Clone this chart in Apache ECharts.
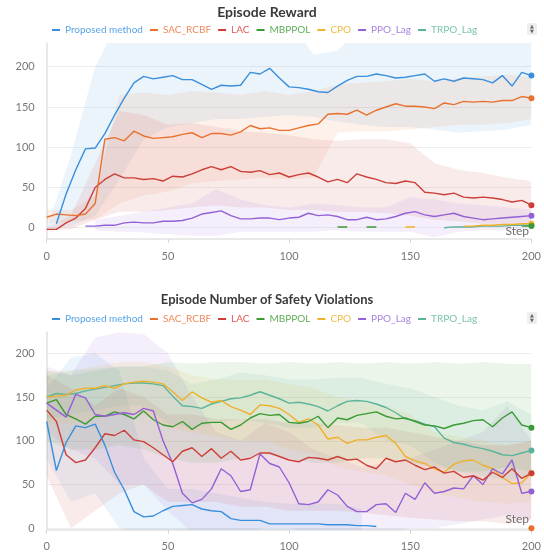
<!DOCTYPE html>
<html><head><meta charset="utf-8">
<script src="https://cdn.jsdelivr.net/npm/echarts@6/dist/echarts.min.js"></script>
<style>html,body{margin:0;padding:0;background:#fff}#c{width:544px;height:552px}</style>
</head><body><div id="c"></div><script>
// ---------- shared ----------
const names = ['Proposed method','SAC_RCBF','LAC','MBPPOL','CPO','PPO_Lag','TRPO_Lag'];
const colors = ['#3a8fdc','#e8712f','#cc3f38','#3b9a35','#efb02b','#9360d6','#5bb49a'];
const legendTextColors = ['#5aa3e6','#ef8b5c','#dd5c57','#5fae58','#f0bb45','#a884e0','#7cc3ad'];
const yTickValues = [0,50,100,150,200];
const xTickValues = [0,50,100,150,200];
const steps = [0,4,8,12,16,20,24,28,32,36,40,44,48,52,56,60,64,68,72,76,80,84,88,92,96,100,104,108,112,116,120,124,128,132,136,140,144,148,152,156,160,164,168,172,176,180,184,188,192,196,200];
const bandSteps = [0,10,20,30,40,50,60,70,80,90,100,110,120,130,140,150,160,170,180,190,200];

// ---------- Episode Reward (top) ----------
const rewardProposed = [null,5,42,72,98,99,117,140,161,180,188,185,187,189,184,184,178,172,177,176,177,193,191,198,186,175,174,172,169,168,176,183,188,188,191,189,186,187,189,191,182,185,182,186,185,184,180,189,176,193,189];
const rewardSAC = [13,17,16,15,17,30,110,112,108,120,114,111,112,113,116,118,112,117,117,115,119,127,123,124,121,121,124,127,129,141,142,141,146,140,146,150,154,151,151,150,148,155,153,157,156,157,156,158,158,163,161];
const rewardLAC = [-2,-2,6,12,24,50,60,67,62,62,60,61,58,64,63,67,72,76,72,76,70,69,71,66,68,63,66,68,63,57,60,56,67,63,60,56,55,58,56,44,43,41,43,38,37,38,37,35,32,34,28];
const rewardPPO = [null,null,null,null,2,2,3,3,6,7,6,6,8,8,9,12,17,19,21,15,11,11,12,12,10,12,13,18,15,16,14,10,10,13,10,11,14,18,20,16,14,16,18,14,12,10,11,12,13,14,15];
const rewardMBX = [120,124,128,132,136,140,196,200];
const rewardMB = [1,1,null,1,1,null,2,2];
const rewardCPOX = [148,152,156,172,176,180,184,188,192,196,200];
const rewardCPO = [1,1,null,2,2,3,3,4,4,5,5];
const rewardTRPOX = [164,168,172,176,180,184,188,192,196,200];
const rewardTRPO = [0,1,1,1,2,2,2,3,3,3];
// bands (every 10 steps)
const rewardProposedLo = [-2,2,15,60,110,125,130,135,135,138,140,138,132,128,125,125,122,118,120,122,128];
const rewardProposedHi = [-2,90,200,260,260,260,260,260,260,260,260,215,220,250,260,260,260,260,260,235,260];
const rewardSACLo = [5,8,10,30,40,45,55,58,60,62,60,62,118,120,120,122,125,128,128,130,135];
const rewardSACHi = [22,22,40,165,168,165,170,168,165,170,165,170,178,180,182,185,182,186,188,190,188];
const rewardLACLo = [-4,-2,10,20,20,22,25,28,25,25,22,22,20,20,18,15,10,8,5,5,5];
const rewardLACHi = [0,15,80,145,140,128,130,125,120,118,115,110,108,110,110,105,80,72,68,62,58];
const rewardPPOLo = [null,null,-3,-5,-6,-8,-10,-10,-5,-5,-5,-5,-3,-5,-5,-5,-12,-5,-3,-3,-3];
const rewardPPOHi = [null,null,10,15,20,25,30,48,35,28,25,30,28,25,25,38,35,30,28,25,22];

// ---------- Safety violations (bottom) ----------
const violProposed = [122,66,98,117,115,119,95,64,44,19,13,14,20,25,26,27,22,20,19,11,9,9,9,5,5,5,5,5,5,4,4,4,3,3,2];
const violSACX = [200];
const violSAC = [0];
const violLAC = [135,122,84,75,78,92,108,106,112,101,99,92,84,76,88,92,82,91,80,88,78,80,86,86,82,78,76,81,80,78,82,78,79,72,68,80,76,78,72,67,70,63,65,58,60,55,64,58,68,57,63];
const violMB = [143,147,130,125,119,128,128,133,130,125,134,124,118,116,122,113,120,121,121,113,118,126,131,129,130,121,120,122,128,115,126,124,129,131,133,128,125,126,122,118,117,114,118,120,123,124,116,126,133,118,115];
const violCPO = [150,151,152,158,160,160,163,160,165,167,168,167,165,156,146,156,149,144,146,139,135,130,141,140,137,130,121,125,118,102,104,97,101,101,104,106,97,82,77,74,68,64,73,77,78,72,68,58,51,52,63];
const violPPO = [143,135,127,153,149,130,128,130,132,130,137,134,100,74,40,29,33,45,68,60,42,44,85,74,70,52,28,27,30,44,38,25,19,19,27,28,18,40,33,52,40,42,46,45,60,50,68,62,78,40,42];
const violTRPO = [150,154,153,154,157,159,161,163,165,166,166,165,163,151,140,139,137,142,145,148,149,152,156,152,148,143,144,142,139,134,140,145,146,145,142,138,132,125,123,119,116,103,98,96,93,91,88,84,83,86,89];
// bands (every 10 steps)
const violProposedLo = [80,30,40,0,-8,-10,-8,-8,-8,-8,-8,-8,-8,-8];
const violProposedHi = [160,195,200,180,80,45,45,40,35,30,28,28,28,22];
const violPPOLo = [110,90,80,50,50,20,-5,-5,-5,0,0,-5,-5,-5,-5,0,0,5,10,15,10];
const violPPOHi = [185,175,218,224,222,200,150,110,100,120,110,90,80,70,75,80,90,100,110,140,100];
const violLACLo = [60,0,20,40,50,30,30,30,25,25,20,20,20,18,15,12,10,8,8,5,10];
const violLACHi = [175,160,140,160,150,130,130,125,125,125,120,120,118,115,115,110,105,100,95,95,100];
const violMBLo = [100,90,90,95,90,80,75,75,80,85,80,75,75,80,80,75,70,65,65,70,65];
const violMBHi = [180,175,180,185,185,190,188,190,190,188,190,188,190,188,190,188,190,188,190,188,188];
const violCPOLo = [120,120,125,130,130,115,110,105,100,100,90,85,70,65,60,50,40,35,30,28,30];
const violCPOHi = [180,180,185,190,190,185,175,170,170,170,165,160,150,145,140,130,110,105,100,95,100];
const violTRPOLo = [125,130,135,140,140,120,115,120,125,120,115,115,120,120,100,95,75,65,60,55,60];
const violTRPOHi = [175,180,182,185,185,180,165,170,178,175,170,170,172,172,165,160,150,140,135,145,130];

// ---------- builders ----------
function lineSeries(idx, xs, ys, gi, marker) {
  const color = colors[idx];
  const data = xs.map((x, i) => [x, ys[i]]);
  if (marker) {
    const last = data.length - 1;
    data[last] = { value: data[last], symbol: 'circle', symbolSize: 6, itemStyle: { color } };
  }
  return { type: 'line', name: names[idx], xAxisIndex: gi, yAxisIndex: gi, data,
    symbol: 'none', showSymbol: true, silent: true, connectNulls: false, z: 3,
    lineStyle: { color, width: 1.4 }, itemStyle: { color } };
}
function bandSeries(idx, xs, lo, hi, gi, alpha) {
  const color = colors[idx];
  const data = xs.map((x, i) => [x, lo[i] == null ? 0 : lo[i], hi[i] == null ? 0 : hi[i]]);
  return { type: 'custom', name: names[idx] + ' band', xAxisIndex: gi, yAxisIndex: gi,
    silent: true, z: 1, data, encode: { x: 0, y: [1, 2] },
    renderItem(params, api) {
      if (params.dataIndex !== 0) return null;
      const top = [], bot = [];
      for (let i = 0; i < xs.length; i++) {
        if (lo[i] == null || hi[i] == null) continue;
        top.push(api.coord([xs[i], hi[i]]));
        bot.push(api.coord([xs[i], lo[i]]));
      }
      const cs = params.coordSys;
      return { type: 'polygon', shape: { points: top.concat(bot.reverse()) },
        style: { fill: color, opacity: alpha },
        clipPath: { type: 'rect', shape: { x: cs.x, y: cs.y, width: cs.width, height: cs.height } } };
    } };
}
function xAx(gi, margin) {
  return { type: 'value', gridIndex: gi, min: 0, max: 200, interval: 50,
    axisLine: { show: true, onZero: false, lineStyle: { color: '#e2e2e2', width: 1.5 } },
    axisTick: { show: true, length: 4, lineStyle: { color: '#d8d8d8' } },
    axisLabel: { color: '#777', fontSize: 11, fontFamily: 'Lato', margin, customValues: xTickValues },
    splitLine: { show: false } };
}
function yAx(gi, min, max) {
  return { type: 'value', gridIndex: gi, min, max,
    axisLine: { show: true, onZero: false, lineStyle: { color: '#e2e2e2', width: 1.5 } },
    axisTick: { show: false, customValues: yTickValues },
    axisLabel: { color: '#777', fontSize: 11, fontFamily: 'Lato', margin: 12, customValues: yTickValues },
    splitLine: { show: true, lineStyle: { color: '#eeeeee' } } };
}
function legendAt(top) {
  return { top, left: 47, icon: 'rect', itemWidth: 8, itemHeight: 2, itemGap: 7,
    textStyle: { fontSize: 10, fontFamily: 'Lato' }, selectedMode: false,
    data: names.map((n, i) => ({ name: n, textStyle: { color: legendTextColors[i] } })) };
}

const A = 0.1;
const series = [
  // top bands
  bandSeries(0, bandSteps, rewardProposedLo, rewardProposedHi, 0, A),
  bandSeries(1, bandSteps, rewardSACLo, rewardSACHi, 0, A),
  bandSeries(2, bandSteps, rewardLACLo, rewardLACHi, 0, A),
  bandSeries(5, bandSteps, rewardPPOLo, rewardPPOHi, 0, A),
  // top lines
  lineSeries(6, rewardTRPOX, rewardTRPO, 0, true),
  lineSeries(4, rewardCPOX, rewardCPO, 0, true),
  lineSeries(3, rewardMBX, rewardMB, 0, true),
  lineSeries(5, steps, rewardPPO, 0, true),
  lineSeries(2, steps, rewardLAC, 0, true),
  lineSeries(1, steps, rewardSAC, 0, true),
  lineSeries(0, steps, rewardProposed, 0, true),
  // bottom bands
  bandSeries(0, bandSteps.slice(0, violProposedLo.length), violProposedLo, violProposedHi, 1, A),
  bandSeries(5, bandSteps, violPPOLo, violPPOHi, 1, A),
  bandSeries(2, bandSteps, violLACLo, violLACHi, 1, A),
  bandSeries(3, bandSteps, violMBLo, violMBHi, 1, A),
  bandSeries(4, bandSteps, violCPOLo, violCPOHi, 1, A),
  bandSeries(6, bandSteps, violTRPOLo, violTRPOHi, 1, A),
  // bottom lines
  lineSeries(6, steps, violTRPO, 1, true),
  lineSeries(4, steps, violCPO, 1, true),
  lineSeries(3, steps, violMB, 1, true),
  lineSeries(5, steps, violPPO, 1, true),
  lineSeries(2, steps, violLAC, 1, true),
  lineSeries(1, violSACX, violSAC, 1, true),
  lineSeries(0, steps.slice(0, violProposed.length), violProposed, 1, false)
];

const chart = echarts.init(document.getElementById('c'), null, { renderer: 'canvas' });
chart.setOption({
  animation: false,
  backgroundColor: '#ffffff',
  textStyle: { fontFamily: 'Lato' },
  grid: [
    { left: 46.7, right: 11, top: 43, height: 196 },
    { left: 46.7, right: 11, top: 332, height: 198 }
  ],
  xAxis: [xAx(0, 12), xAx(1, 11)],
  yAxis: [yAx(0, -14, 229.5), yAx(1, -2, 224.3)],
  legend: [legendAt(20), legendAt(309)],
  graphic: [
    { type: 'text', x: 267, y: 12, style: { text: 'Episode Reward', align: 'center', verticalAlign: 'middle', textAlign: 'center', textVerticalAlign: 'middle', font: 'bold 14px Lato', fill: '#3a3a3a' } },
    { type: 'text', x: 267, y: 300, style: { text: 'Episode Number of Safety Violations', align: 'center', verticalAlign: 'middle', textAlign: 'center', textVerticalAlign: 'middle', font: 'bold 13px Lato', fill: '#3a3a3a' } },
    { type: 'text', x: 529, y: 231, z: 10, style: { text: 'Step', align: 'right', verticalAlign: 'middle', textAlign: 'right', textVerticalAlign: 'middle', font: '12px Lato', fill: '#6e6e6e' } },
    { type: 'text', x: 529, y: 519, z: 10, style: { text: 'Step', align: 'right', verticalAlign: 'middle', textAlign: 'right', textVerticalAlign: 'middle', font: '12px Lato', fill: '#6e6e6e' } },
    { type: 'rect', shape: { x: 527, y: 23, width: 10, height: 12, r: 2 }, style: { fill: '#eeeeee' } },
    { type: 'text', x: 532, y: 26.5, style: { text: '▲', align: 'center', verticalAlign: 'middle', textAlign: 'center', textVerticalAlign: 'middle', font: '5px DejaVu Sans', fill: '#666' } },
    { type: 'text', x: 532, y: 31.5, style: { text: '▼', align: 'center', verticalAlign: 'middle', textAlign: 'center', textVerticalAlign: 'middle', font: '5px DejaVu Sans', fill: '#666' } },
    { type: 'rect', shape: { x: 527, y: 312, width: 10, height: 12, r: 2 }, style: { fill: '#eeeeee' } },
    { type: 'text', x: 532, y: 315.5, style: { text: '▲', align: 'center', verticalAlign: 'middle', textAlign: 'center', textVerticalAlign: 'middle', font: '5px DejaVu Sans', fill: '#666' } },
    { type: 'text', x: 532, y: 320.5, style: { text: '▼', align: 'center', verticalAlign: 'middle', textAlign: 'center', textVerticalAlign: 'middle', font: '5px DejaVu Sans', fill: '#666' } }
  ],
  series
});
</script></body></html>
